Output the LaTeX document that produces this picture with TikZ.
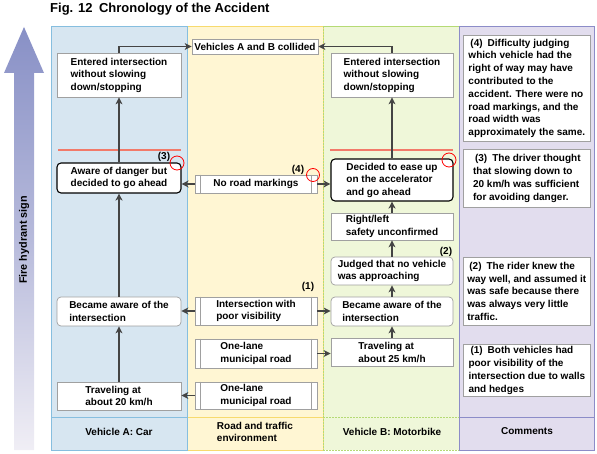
\documentclass[tikz,border=0pt]{standalone}
\usepackage{fontspec}
\setmainfont{Liberation Sans}
\usetikzlibrary{arrows.meta,calc}
\definecolor{colAfill}{HTML}{D7E6F1}
\definecolor{colAline}{HTML}{86BEDF}
\definecolor{colRfill}{HTML}{FFF6D3}
\definecolor{colRline}{HTML}{F7DA6E}
\definecolor{colBfill}{HTML}{EFF7D9}
\definecolor{colBline}{HTML}{B5DA75}
\definecolor{colCfill}{HTML}{E2DDEE}
\definecolor{colCline}{HTML}{8C8CC8}
\definecolor{arrowgrey}{HTML}{444444}
\definecolor{boxgrey}{HTML}{A0A0A0}
\definecolor{redline}{HTML}{F27A6A}
\definecolor{hydtop}{HTML}{8890C6}
\definecolor{hydbot}{HTML}{F0EEF5}
\begin{document}
\begin{tikzpicture}[x=1pt,y=-1pt,
  font=\fontsize{10}{12.5}\selectfont\bfseries,
  sqbox/.style={draw=boxgrey, fill=white, line width=0.7pt, align=left, inner sep=0pt},
  rbox/.style={sqbox, rounded corners=4pt},
  kbox/.style={sqbox, rounded corners=4pt, draw=black, line width=1.1pt},
  combox/.style={sqbox, anchor=north west, minimum width=127, font=\fontsize{10}{12.8}\selectfont\bfseries},
  flow/.style={draw=arrowgrey, line width=1.1pt, -{Stealth[length=7pt,width=7pt,inset=2pt]}},
  redc/.style={draw=red, line width=0.8pt},
  redl/.style={draw=redline, line width=2pt},
  numlbl/.style={inner sep=0pt},
  foot/.style={inner sep=0pt, align=left}]
\useasboundingbox (0,0) rectangle (597,454);

% title
\node[anchor=west, inner sep=0pt, font=\fontsize{13}{15}\selectfont\bfseries] (title) at (50,9) {Fig. 12\enspace Chronology of the Accident};

% fire hydrant arrow
\shade[top color=hydtop, bottom color=hydbot, middle color=hydtop!55!hydbot]
  (14,450) -- (14,73) -- (4,73) -- (24,27) -- (44,73) -- (34,73) -- (34,450) -- cycle;
\node[rotate=90, inner sep=0pt, font=\fontsize{10.8}{13}\selectfont\bfseries] (hyd) at (24,240) {Fire hydrant sign};

% columns
\fill[colAfill] (51,26) rectangle (187,450);
\fill[colRfill] (187,26) rectangle (323,450);
\fill[colBfill] (323,26) rectangle (459,450);
\fill[colCfill] (459,26) rectangle (594,450);
\draw[colRline, line width=0.9pt] (187,26) rectangle (323,450) (187,417) -- (323,417);
\draw[colAline, line width=0.9pt] (51,26) rectangle (187,450) (51,417) -- (187,417);
\draw[colCline, line width=0.9pt] (459,26) rectangle (594,450) (459,417) -- (594,417);
\draw[colBline, line width=0.9pt] (323,26) -- (459,26);
\draw[colBline, line width=0.9pt, dashed, dash pattern=on 2pt off 1pt] (323,26) -- (323,450) (323,417) -- (459,417) (323,450) -- (459,450);

% footers
\node[foot] (fA) at (119,432) {Vehicle A: Car};
\node[foot] (fR) at (255,432) {Road and traffic\\environment};
\node[foot] (fB) at (392,432) {Vehicle B: Motorbike};
\node[foot] (fC) at (527,431) {Comments};

% collided
\node[sqbox, minimum width=126, minimum height=15, align=center] (col) at (255,46.5) {Vehicles A and B collided};

% Vehicle A
\node[sqbox, minimum width=124, minimum height=44] (a4) at (119,75) {Entered intersection\\without slowing\\down/stopping};
\node[kbox, minimum width=124, minimum height=30] (a3) at (119,178) {Aware of danger but\\decided to go ahead};
\node[rbox, minimum width=124, minimum height=29] (a2) at (119,311.5) {Became aware of the\\intersection};
\node[sqbox, minimum width=124, minimum height=28] (a1) at (119,396) {Traveling at\\about 20 km/h};

% Road
\node[sqbox, minimum width=122, minimum height=18] (r4) at (256,184) {No road markings};
\node[sqbox, minimum width=122, minimum height=28] (r3) at (256,311) {Intersection with\\poor visibility};
\node[sqbox, minimum width=122, minimum height=29] (r2) at (256,353.5) {One-lane\\municipal road};
\node[sqbox, minimum width=122, minimum height=27] (r1) at (256,395.5) {One-lane\\municipal road};
\foreach \n in {r1,r2,r3,r4}
  \draw[boxgrey, line width=0.6pt] ([xshift=6]\n.north west) -- ([xshift=6]\n.south west)
    ([xshift=-6]\n.north east) -- ([xshift=-6]\n.south east);

% Vehicle B
\node[sqbox, minimum width=122, minimum height=44] (b6) at (392,75) {Entered intersection\\without slowing\\down/stopping};
\node[kbox, minimum width=122, minimum height=42] (b5) at (392,180) {Decided to ease up\\on the accelerator\\and go ahead};
\node[sqbox, minimum width=122, minimum height=27] (b4) at (392,226.5) {Right/left\\safety unconfirmed};
\node[rbox, minimum width=122, minimum height=28] (b3) at (392,271) {Judged that no vehicle\\was approaching};
\node[rbox, minimum width=122, minimum height=29] (b2) at (392,311.5) {Became aware of the\\intersection};
\node[sqbox, minimum width=122, minimum height=28] (b1) at (392,352.5) {Traveling at\\about 25 km/h};

% Comments
\node[combox, minimum height=106] (c4) at (463,35) {\hspace{2pt}(4)\enspace Difficulty judging\\which vehicle had the\\right of way may have\\contributed to the\\accident. There were no\\road markings, and the\\road width was\\approximately the same.};
\node[combox, minimum height=58] (c3) at (463,149) {\hspace{2pt}(3)\enspace The driver thought\\that slowing down to\\20 km/h was sufficient\\for avoiding danger.};
\node[combox, minimum height=68] (c2) at (463,257) {\hspace{2pt}(2)\enspace The rider knew the\\way well, and assumed it\\was safe because there\\was always very little\\traffic.};
\node[combox, minimum height=52] (c1) at (463,344) {\hspace{2pt}(1)\enspace Both vehicles had\\poor visibility of the\\intersection due to walls\\and hedges};

% red lines
\draw[redl] (58,150) -- (181,150);
\draw[redl] (330,150) -- (453,150);

% number labels and circles
\node[numlbl] (n3) at (164,157) {(3)};
\node[numlbl] (n4) at (298,170) {(4)};
\node[numlbl] (n2) at (446,252) {(2)};
\node[numlbl] (n1) at (308,287) {(1)};
\draw[redc] (177,163) circle[radius=7];
\draw[redc] (313,175) circle[radius=6.5];
\draw[redc] (449,160) circle[radius=7];

% flows A
\draw[flow] (a1.north) -- (a2.south);
\draw[flow] (a2.north) -- (a3.south);
\draw[flow] (a3.north) -- (a4.south);
\draw[flow] (a4.north) |- (col.west);
% flows B
\draw[flow] (b1.north) -- (b2.south);
\draw[flow] (b2.north) -- (b3.south);
\draw[flow] (b3.north) -- (b4.south);
\draw[flow] (b4.north) -- (b5.south);
\draw[flow] (b5.north) -- (b6.south);
\draw[flow] (b6.north) |- (col.east);
% road to vehicles
\draw[flow] (r4.west) -- (r4.west -| a3.east);
\draw[flow] (r4.east) -- (r4.east -| b5.west);
\draw[flow] (r3.west) -- (r3.west -| a2.east);
\draw[flow] (r3.east) -- (r3.east -| b2.west);
\draw[flow] (r2.east) -- (r2.east -| b1.west);
\draw[flow] (r1.west) -- (r1.west -| a1.east);
\end{tikzpicture}
\end{document}
